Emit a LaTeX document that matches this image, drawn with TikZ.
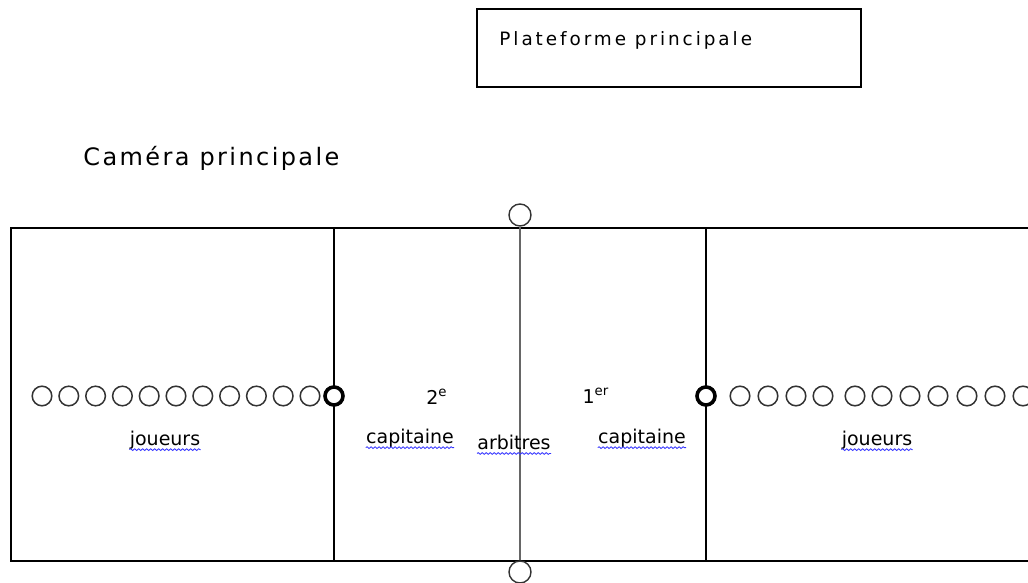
\documentclass[tikz,border=0pt]{standalone}
\usepackage{fontspec}
\setmainfont{DejaVu Sans}
\newfontfamily\platfont[LetterSpace=16]{DejaVu Sans}
\newfontfamily\camfont[LetterSpace=10]{DejaVu Sans}
\usepackage{tikz}
\usetikzlibrary{decorations.pathmorphing}

\tikzset{
  joueur/.style={circle, draw=black!80, line width=0.75pt, fill=white, minimum size=9.8pt, inner sep=0pt},
  capt/.style={circle, draw=black, line width=1.8pt, fill=white, minimum size=9pt, inner sep=0pt},
  camera/.style={circle, draw=black!80, line width=0.7pt, fill=white, minimum size=11pt, inner sep=0pt},
  mot/.style={inner sep=0pt, font=\fontsize{9.5}{11}\selectfont},
  vague/.style={draw=blue!80, line width=0.4pt, decorate, decoration={snake, amplitude=0.45pt, segment length=2pt}}
}

\begin{document}
\begin{tikzpicture}[x=0.5pt, y=-0.5pt]
	\useasboundingbox (0,0) rectangle (1028,583);
	\clip (0,0) rectangle (1028,583);
	% plateforme et camera
	\node (platbox) [draw, line width=0.6pt, minimum width=192pt, minimum height=39pt] at (669,48) {};
	\node (plattxt) [anchor=west, inner sep=0pt, font=\platfont\fontsize{9.2}{11}\selectfont] at (499,40) {Plateforme principale};
	\node (camtxt) [anchor=west, inner sep=0pt, font=\camfont\fontsize{12}{14}\selectfont] at (83,158) {Caméra principale};
	% terrain
	\draw[line width=1pt] (1040,228) -- (11,228) -- (11,561) -- (1040,561);
	\draw[line width=0.8pt] (334,228) -- (334,561);
	\draw[line width=0.8pt] (706,228) -- (706,561);
	\node (camtop) [camera] at (520,215) {};
	\node (cambot) [camera] at (520,572) {};
	\draw[black!60, line width=1pt] (camtop) -- (cambot);
	% joueurs
	\foreach \i in {0,...,10}
		\node (jg\i) [joueur] at (42+26.8*\i,396) {};
	\foreach \x [count=\i] in {740,768,796,823,855,882,910,938,967,995,1023}
		\node (jd\i) [joueur] at (\x,396) {};
	\node (capg) [capt] at (334,396) {};
	\node (capd) [capt] at (706,396) {};
	% textes
	\node (deux) [mot] at (437,397) {2\textsuperscript{e}};
	\node (un) [mot] at (596,396) {1\textsuperscript{er}};
	\node (joug) [mot] at (165,440) {joueurs};
	\node (capgt) [mot] at (410,438) {capitaine};
	\node (arb) [mot] at (514,442) {arbitres};
	\node (capdt) [mot] at (642,438) {capitaine};
	\node (joud) [mot] at (877,440) {joueurs};
	\foreach \n in {joug,capgt,arb,capdt,joud}
		\draw[vague] ([yshift=-2.2pt]\n.base west) -- ([yshift=-2.2pt]\n.base east);
\end{tikzpicture}
\end{document}
